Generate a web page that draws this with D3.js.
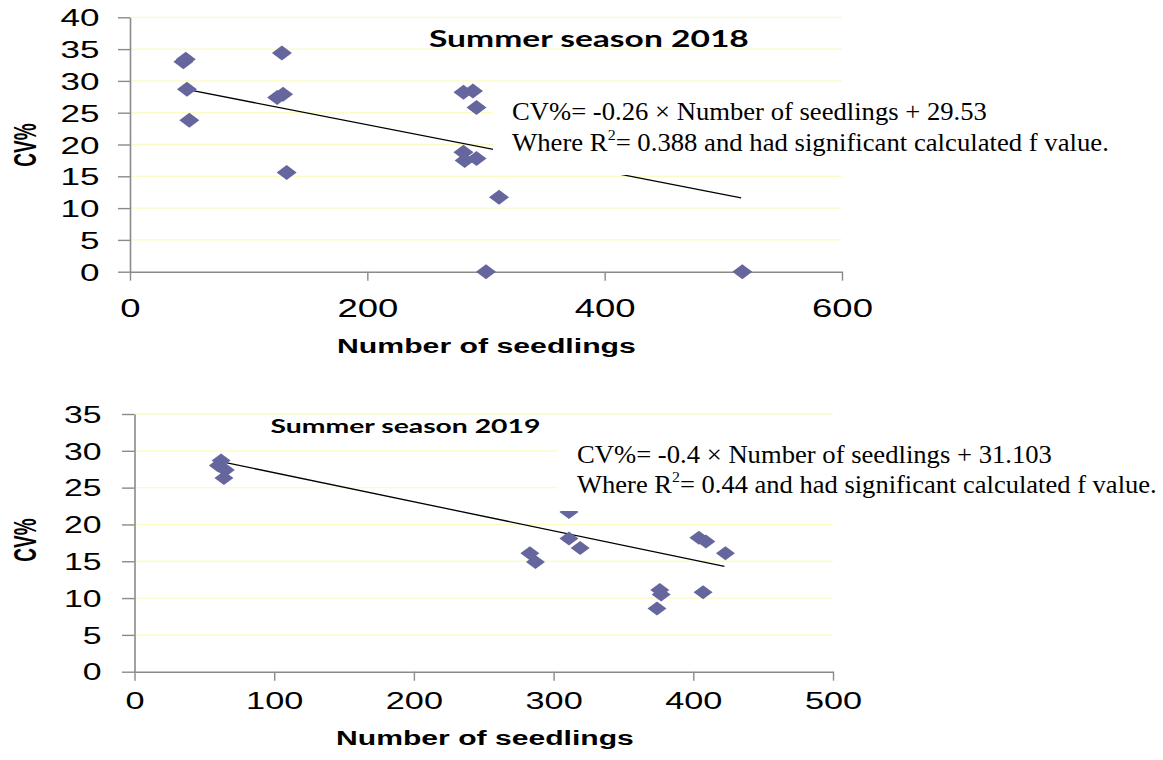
<!DOCTYPE html>
<html>
<head>
<meta charset="utf-8">
<script src="https://cdn.jsdelivr.net/npm/d3@7"></script>
<style>
  html, body { margin: 0; padding: 0; background: #fff; }
  svg { display: block; }
</style>
</head>
<body>
<svg id="chart" width="1163" height="760"></svg>
<script>
// ---- Summer season 2018 ----
const seedlings2018 = [45, 47, 48, 50, 128, 124, 129, 132, 281, 289, 292, 281, 282, 292, 311, 300, 516];
const cv2018        = [33.0, 33.4, 28.7, 23.8, 34.4, 27.4, 27.9, 15.6, 28.2, 28.4, 25.8, 18.8, 17.5, 17.8, 11.7, 0, 0];
const trendX2018 = [46.5, 515];
const trendY2018 = [28.7, 11.6];
const xTicks2018 = [0, 200, 400, 600];
const yTicks2018 = [0, 5, 10, 15, 20, 25, 30, 35, 40];

// ---- Summer season 2019 ----
const seedlings2019 = [62, 60, 65, 64, 283, 287, 311, 311, 319, 404, 409, 423, 376, 377, 374, 407];
const cv2019        = [28.7, 28.0, 27.4, 26.3, 16.1, 14.9, 21.7, 18.1, 16.8, 18.2, 17.7, 16.1, 11.1, 10.5, 8.6, 10.8];
const trendX2019 = [60.2, 422.3];
const trendY2019 = [28.6, 14.3];
const xTicks2019 = [0, 100, 200, 300, 400, 500];
const yTicks2019 = [0, 5, 10, 15, 20, 25, 30, 35];

const svg = d3.select("#chart");
svg.append("rect").attr("width", 1163).attr("height", 760).attr("fill", "#fff");

const AXIS = "#8a8a8a", GRID = "#fbfbc4", MARK = "#66669e";

// scale a text element horizontally so it spans a given width
function fitWidth(text, x, y, width) {
  const w = text.node().getBBox().width;
  text.attr("transform", `translate(${x},${y}) scale(${width / w},1)`);
}

function panel(cfg) {
  const x = d3.scaleLinear().domain(cfg.xDomain).range(cfg.xRange);
  const y = d3.scaleLinear().domain(cfg.yDomain).range(cfg.yRange);
  const g = svg.append("g");

  // horizontal gridlines
  g.append("g").selectAll("line").data(cfg.yTicks.filter(d => d > 0)).join("line")
    .attr("x1", x.range()[0]).attr("x2", x.range()[1])
    .attr("y1", d => y(d)).attr("y2", d => y(d))
    .attr("stroke", GRID).attr("stroke-width", 1.3);

  // y axis
  const ya = g.append("g").attr("transform", `translate(${x.range()[0]},0)`)
    .call(d3.axisLeft(y).tickValues(cfg.yTicks).tickSize(cfg.yTickLen).tickSizeOuter(0));
  ya.select(".domain").attr("stroke", AXIS).attr("stroke-width", 1.6);
  ya.selectAll(".tick line").attr("stroke", AXIS).attr("stroke-width", 1.4);
  ya.selectAll(".tick text")
    .attr("x", 0).attr("dy", "0.36em")
    .attr("transform", `translate(${-cfg.yLabelGap},0) scale(${cfg.yLabelStretch},1)`)
    .attr("font-family", "Liberation Sans, Arial, sans-serif")
    .attr("font-size", cfg.yFont).attr("fill", "#000");

  // x axis
  const xa = g.append("g").attr("transform", `translate(0,${y.range()[0]})`)
    .call(d3.axisBottom(x).tickValues(cfg.xTicks).tickSize(cfg.xTickLen).tickSizeOuter(0));
  xa.select(".domain").attr("stroke", AXIS).attr("stroke-width", 1.6);
  xa.selectAll(".tick line").attr("stroke", AXIS).attr("stroke-width", 1.4);
  xa.selectAll(".tick text")
    .attr("y", cfg.xLabelBase).attr("dy", 0)
    .attr("transform", `scale(${cfg.xLabelStretch},1)`)
    .attr("font-family", "Liberation Sans, Arial, sans-serif")
    .attr("font-size", cfg.xFont).attr("fill", "#000");

  // linear trend line
  g.append("line")
    .attr("x1", x(cfg.trendX[0])).attr("y1", y(cfg.trendY[0]))
    .attr("x2", x(cfg.trendX[1])).attr("y2", y(cfg.trendY[1]))
    .attr("stroke", "#000").attr("stroke-width", 1.3);

  // diamond markers
  const a = cfg.markW, b = cfg.markH;
  g.append("g").selectAll("path").data(cfg.xs.map((v, i) => [v, cfg.ys[i]])).join("path")
    .attr("d", `M0,${-b}L${a},0L0,${b}L${-a},0Z`)
    .attr("transform", d => `translate(${x(d[0])},${y(d[1])})`)
    .attr("fill", MARK);

  // equation box
  g.append("rect")
    .attr("x", cfg.box[0]).attr("y", cfg.box[1])
    .attr("width", cfg.box[2]).attr("height", cfg.box[3]).attr("fill", "#fff");

  const serif = "Liberation Serif, Times New Roman, serif";
  const l1 = g.append("text").attr("font-family", serif).attr("font-size", 25).attr("fill", "#000")
    .text(cfg.eq);
  fitWidth(l1, cfg.eqX, cfg.eqBase[0], cfg.eqW[0]);
  const l2 = g.append("text").attr("font-family", serif).attr("font-size", 25).attr("fill", "#000");
  l2.append("tspan").text("Where R");
  l2.append("tspan").attr("font-size", 15).attr("dy", -11).text("2");
  l2.append("tspan").attr("dy", 11).text(cfg.r2);
  fitWidth(l2, cfg.eqX, cfg.eqBase[1], cfg.eqW[1]);

  // panel title
  const t = g.append("text").attr("font-family", "Lato, Open Sans, sans-serif")
    .attr("font-weight", 700).attr("font-size", cfg.titleFont).attr("fill", "#000")
    .text(cfg.title);
  fitWidth(t, cfg.titlePos[0], cfg.titlePos[1], cfg.titlePos[2]);

  // axis titles
  const xt = g.append("text").attr("font-family", "Liberation Sans, Arial, sans-serif")
    .attr("font-weight", 700).attr("font-size", 21).attr("fill", "#000")
    .text("Number of seedlings");
  fitWidth(xt, cfg.xTitle[0], cfg.xTitle[1], cfg.xTitle[2]);

  g.append("text").attr("font-family", "Liberation Sans, Arial, sans-serif")
    .attr("font-weight", 700).attr("font-size", 19).attr("fill", "#000")
    .attr("text-anchor", "middle").attr("dy", "0.36em")
    .attr("transform", `translate(${cfg.yTitle[0]},${cfg.yTitle[1]}) scale(1.65,1) rotate(-90)`)
    .text("CV%");
}

panel({
  xs: seedlings2018, ys: cv2018, trendX: trendX2018, trendY: trendY2018,
  xDomain: [0, 600], yDomain: [0, 40], xRange: [130, 842], yRange: [271.7, 17.3],
  xTicks: xTicks2018, yTicks: yTicks2018,
  yTickLen: 12, xTickLen: 9, yLabelGap: 30.5, yLabelStretch: 1.46, yFont: 24,
  xLabelBase: 45, xLabelStretch: 1.46, xFont: 25,
  markW: 10, markH: 7.5,
  box: [493, 95, 640, 80],
  eq: "CV%= -0.26 \u00d7 Number of seedlings + 29.53", r2: "= 0.388 and had significant calculated f value.",
  eqX: 512, eqBase: [119.5, 150.5], eqW: [475, 597],
  title: "Summer season 2018", titleFont: 23, titlePos: [429, 46.7, 320],
  xTitle: [337, 353.3, 299], yTitle: [24.5, 145]
});

panel({
  xs: seedlings2019, ys: cv2019, trendX: trendX2019, trendY: trendY2019,
  xDomain: [0, 500], yDomain: [0, 35], xRange: [134.5, 833], yRange: [671.7, 414],
  xTicks: xTicks2019, yTicks: yTicks2019,
  yTickLen: 12.5, xTickLen: 9, yLabelGap: 33, yLabelStretch: 1.47, yFont: 23,
  xLabelBase: 37.6, xLabelStretch: 1.4, xFont: 24.5,
  markW: 9.5, markH: 7,
  box: [557.7, 436, 606, 75],
  eq: "CV%= -0.4 \u00d7 Number of seedlings + 31.103", r2: "= 0.44 and had significant calculated f value.",
  eqX: 577, eqBase: [462.7, 493.3], eqW: [475, 580],
  title: "Summer season 2019", titleFont: 18.5, titlePos: [270.6, 432.7, 270],
  xTitle: [336, 745, 298], yTitle: [25, 540]
});
</script>
</body>
</html>
